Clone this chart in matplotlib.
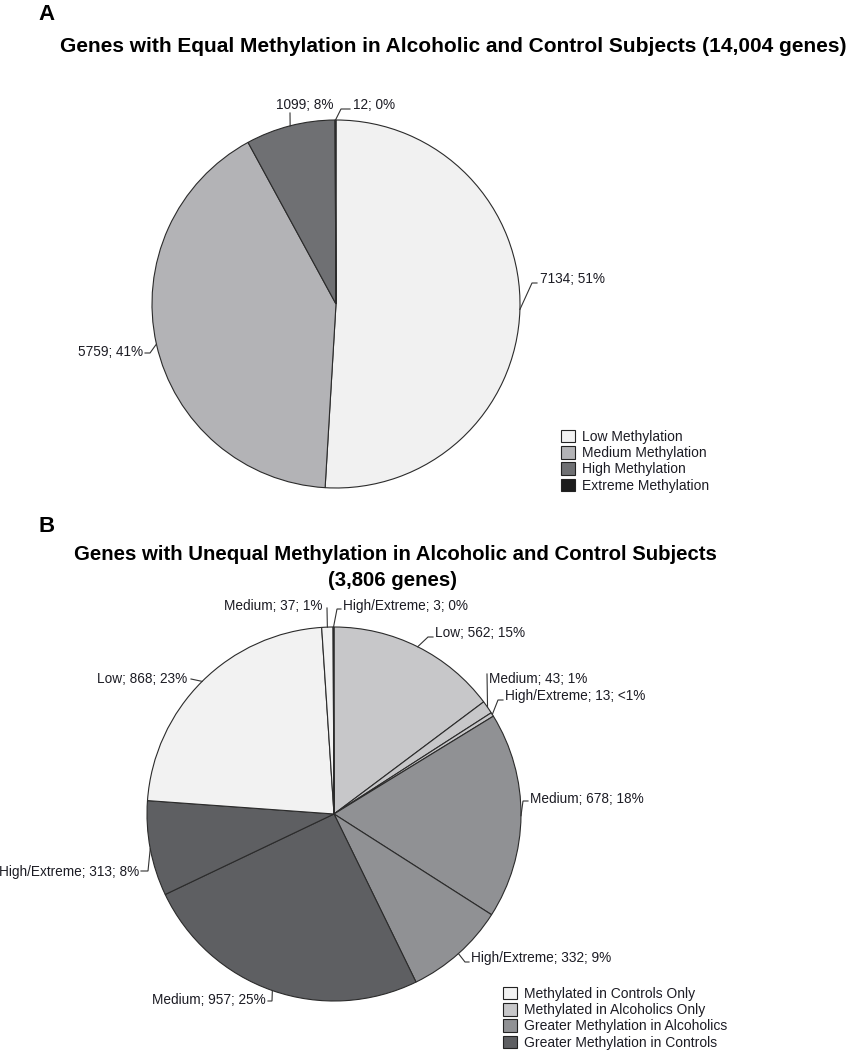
import numpy as np
import matplotlib
matplotlib.use('Agg')
import matplotlib.pyplot as plt
from matplotlib.patches import Patch

plt.rcParams['font.family'] = ['Liberation Sans', 'DejaVu Sans']

# panel A data
a_categories = ['Low Methylation', 'Medium Methylation', 'High Methylation', 'Extreme Methylation']
a_counts = [7134, 5759, 1099, 12]
a_pcts = ['51%', '41%', '8%', '0%']
a_colors = ['#f1f1f1', '#b3b3b6', '#6f7073', '#1c1c1c']

# panel B data (slices clockwise from 12 o'clock)
b_groups = ['Methylated in Controls Only', 'Methylated in Alcoholics Only',
            'Greater Methylation in Alcoholics', 'Greater Methylation in Controls']
b_group_colors = ['#f2f2f2', '#c7c7c9', '#909194', '#5e5f62']
b_levels = ['Low', 'Medium', 'High/Extreme', 'Medium', 'High/Extreme',
            'Medium', 'High/Extreme', 'Low', 'Medium', 'High/Extreme']
b_counts = [562, 43, 13, 678, 332, 957, 313, 868, 37, 3]
b_pcts = ['15%', '1%', '<1%', '18%', '9%', '25%', '8%', '23%', '1%', '0%']
b_group_idx = [1, 1, 1, 2, 2, 3, 3, 0, 0, 0]

# label layout (pixel coords): text anchor, alignment, leader knee, leader tip
a_text_xy = [(540, 279), (143, 352), (305, 105), (353, 105)]
a_text_ha = ['left', 'right', 'center', 'left']
a_knee = [(532, 283), (150, 353), (290, 113), (341, 109)]
a_tip = [(537, 283), (145, 353), None, (350, 109)]

b_text_xy = [(435, 633), (489, 679), (505, 696), (530, 799), (471, 958),
             (266, 1000), (139, 872), (187, 679), (323, 606), (343, 606)]
b_text_ha = ['left', 'left', 'left', 'left', 'left',
             'right', 'right', 'right', 'right', 'left']
b_knee = [(428, 637), (487, 674), (498, 700), (523, 801), (465, 962),
          (272, 1001), (148, 871), (191, 679), (327, 608), (337, 609)]
b_tip = [(433, 637), None, (503, 700), (528, 801), (469, 962),
         (268, 1001), (141, 871), None, None, (341, 609)]

edge = '#2b2b2b'
lab_fs = 9.8
txt_col = '#1c1c24'

fig = plt.figure(figsize=(8.48, 10.5), dpi=100)
ax = fig.add_axes([0, 0, 1, 1])


def leader(w, knee, tip):
    th = np.deg2rad((w.theta1 + w.theta2) / 2)
    cx, cy = w.center
    xs = [cx + w.r * np.cos(th), knee[0]]
    ys = [cy + w.r * np.sin(th), knee[1]]
    if tip is not None:
        xs.append(tip[0])
        ys.append(tip[1])
    ax.plot(xs, ys, color='#333333', lw=0.8, solid_joinstyle='miter')


# y axis is flipped (pixel coords), so counterclock here reads clockwise on screen
wa, _ = ax.pie(a_counts, colors=a_colors, center=(336, 304), radius=184,
               startangle=-90, counterclock=True,
               wedgeprops=dict(edgecolor=edge, linewidth=0.8))
for i, w in enumerate(wa):
    leader(w, a_knee[i], a_tip[i])
    ax.text(a_text_xy[i][0], a_text_xy[i][1], f'{a_counts[i]}; {a_pcts[i]}',
            ha=a_text_ha[i], va='center', fontsize=lab_fs, color=txt_col)

b_colors = [b_group_colors[g] for g in b_group_idx]
wb, _ = ax.pie(b_counts, colors=b_colors, center=(334, 814), radius=187,
               startangle=-90, counterclock=True,
               wedgeprops=dict(edgecolor=edge, linewidth=0.8))
for i, w in enumerate(wb):
    leader(w, b_knee[i], b_tip[i])
    ax.text(b_text_xy[i][0], b_text_xy[i][1], f'{b_levels[i]}; {b_counts[i]}; {b_pcts[i]}',
            ha=b_text_ha[i], va='center', fontsize=lab_fs, color=txt_col)

ax.set_xlim(0, 848)
ax.set_ylim(1050, 0)
ax.set_aspect('equal')
ax.axis('off')

# legends
ha = [Patch(facecolor=c, edgecolor='#222222', lw=0.8) for c in a_colors]
leg_a = ax.legend(ha, a_categories, loc='upper left', bbox_to_anchor=(561, 430),
                  bbox_transform=ax.transData, frameon=False, fontsize=10,
                  handlelength=1.0, handleheight=1.0, handletextpad=0.5,
                  labelspacing=0.16, borderpad=0, borderaxespad=0,
                  labelcolor=txt_col)
ax.add_artist(leg_a)
hb = [Patch(facecolor=c, edgecolor='#222222', lw=0.8) for c in b_group_colors]
ax.legend(hb, b_groups, loc='upper left', bbox_to_anchor=(503, 987),
          bbox_transform=ax.transData, frameon=False, fontsize=10,
          handlelength=1.0, handleheight=1.0, handletextpad=0.5,
          labelspacing=0.16, borderpad=0, borderaxespad=0,
          labelcolor=txt_col)

# titles
ax.text(38, 15, 'A', fontsize=16, fontweight='bold', va='center')
ax.text(453, 47, 'Genes with Equal Methylation in Alcoholic and Control Subjects (14,004 genes)',
        ha='center', va='center', fontsize=15, fontweight='bold')
ax.text(38, 527, 'B', fontsize=16, fontweight='bold', va='center')
ax.text(395, 555, 'Genes with Unequal Methylation in Alcoholic and Control Subjects',
        ha='center', va='center', fontsize=14.7, fontweight='bold')
ax.text(393, 581, '(3,806 genes)',
        ha='center', va='center', fontsize=14.7, fontweight='bold')

fig.savefig('out.png', dpi=100)
